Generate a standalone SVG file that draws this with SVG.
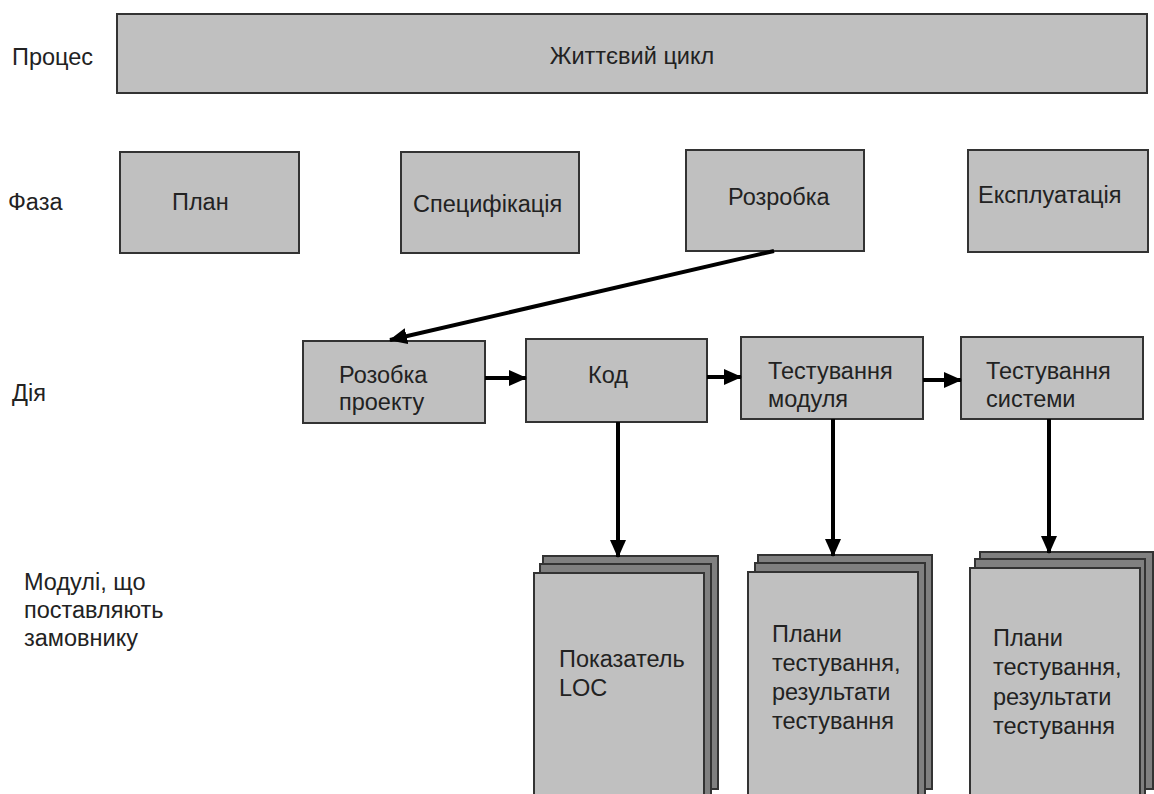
<svg xmlns="http://www.w3.org/2000/svg" width="1154" height="794" viewBox="0 0 1154 794">
<defs>
<style>
.box{fill:#c0c0c0;stroke:#333;stroke-width:2}
.back{fill:#808080;stroke:#333;stroke-width:2}
.t{font-family:"Liberation Sans",Arial,sans-serif;font-size:23.5px;fill:#222}
.c{stroke:#000;stroke-width:4;fill:none}
</style>
<marker id="ah" markerUnits="userSpaceOnUse" markerWidth="18" markerHeight="18" viewBox="0 0 18 18" refX="17" refY="9" orient="auto">
<path d="M0,1 L18,9 L0,17 Z" fill="#000"/>
</marker>
</defs>
<rect width="1154" height="794" fill="#fff"/>
<text class="t" x="12" y="65">Процес</text>
<text class="t" x="8" y="210">Фаза</text>
<text class="t" x="12" y="401">Дія</text>
<text class="t" x="24" y="590">Модулі, що</text>
<text class="t" x="24" y="618">поставляють</text>
<text class="t" x="24" y="646">замовнику</text>

<g id="lifecycle"><rect class="box" x="117" y="14" width="1030" height="79"/><text class="t" x="632" y="64" text-anchor="middle">Життєвий цикл</text></g>

<g id="plan"><rect class="box" x="120" y="152" width="179" height="101"/><text class="t" x="172" y="210">План</text></g>
<g id="spec"><rect class="box" x="401" y="152" width="178" height="101"/><text class="t" x="413" y="212">Специфікація</text></g>
<g id="dev"><rect class="box" x="686" y="150" width="178" height="101"/><text class="t" x="728" y="205">Розробка</text></g>
<g id="ops"><rect class="box" x="968" y="150" width="180" height="102"/><text class="t" x="978" y="203">Експлуатація</text></g>

<g id="design"><rect class="box" x="303" y="341" width="182" height="82"/><text class="t" x="339" y="383">Розобка</text><text class="t" x="339" y="410">проекту</text></g>
<g id="code"><rect class="box" x="526" y="339" width="181" height="83"/><text class="t" x="588" y="383">Код</text></g>
<g id="unittest"><rect class="box" x="741" y="337" width="182" height="82"/><text class="t" x="768" y="379">Тестування</text><text class="t" x="768" y="407">модуля</text></g>
<g id="systest"><rect class="box" x="961" y="337" width="182" height="82"/><text class="t" x="986" y="379">Тестування</text><text class="t" x="986" y="407">системи</text></g>

<g id="doc-loc">
<rect class="back" x="543" y="556" width="175" height="233"/>
<rect class="back" x="540" y="564" width="171" height="232"/>
<rect class="box" x="534" y="573" width="170" height="230"/>
<text class="t" x="559" y="667">Показатель</text><text class="t" x="559" y="696">LOC</text>
</g>
<g id="doc-unit">
<rect class="back" x="758" y="555" width="174" height="234"/>
<rect class="back" x="755" y="563" width="170" height="233"/>
<rect class="box" x="748" y="572" width="170" height="231"/>
<text class="t" x="772" y="642">Плани</text><text class="t" x="772" y="671">тестування,</text><text class="t" x="772" y="700">результати</text><text class="t" x="772" y="729">тестування</text>
</g>
<g id="doc-sys">
<rect class="back" x="980" y="552" width="173" height="237"/>
<rect class="back" x="975" y="559" width="170" height="237"/>
<rect class="box" x="970" y="568" width="170" height="235"/>
<text class="t" x="993" y="646">Плани</text><text class="t" x="993" y="675">тестування,</text><text class="t" x="993" y="705">результати</text><text class="t" x="993" y="734">тестування</text>
</g>

<g id="connectors">
<line class="c" x1="774" y1="251" x2="390" y2="340" marker-end="url(#ah)"/>
<line class="c" x1="485" y1="378" x2="526" y2="378" marker-end="url(#ah)"/>
<line class="c" x1="707" y1="377" x2="741" y2="377" marker-end="url(#ah)"/>
<line class="c" x1="923" y1="380" x2="961" y2="380" marker-end="url(#ah)"/>
<line class="c" x1="618" y1="422" x2="618" y2="557" marker-end="url(#ah)"/>
<line class="c" x1="833" y1="419" x2="833" y2="556" marker-end="url(#ah)"/>
<line class="c" x1="1049" y1="419" x2="1049" y2="553" marker-end="url(#ah)"/>
</g>
</svg>
